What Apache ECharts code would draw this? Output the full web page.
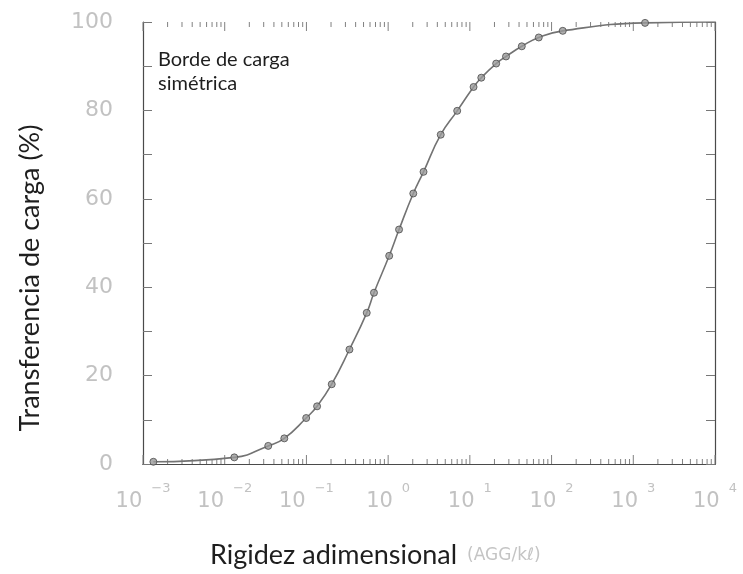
<!DOCTYPE html>
<html>
<head>
<meta charset="utf-8">
<script src="https://cdn.jsdelivr.net/npm/echarts@6/dist/echarts.min.js"></script>
<style>
  html, body { margin: 0; padding: 0; background: #fff; }
  #chart { width: 743px; height: 574px; }
</style>
</head>
<body>
<div id="chart"></div>
<script>
// Rigidez adimensional (eje logarítmico) y transferencia de carga en %
const stiffness = [0.00134, 0.0131, 0.0341, 0.0536, 0.0993, 0.135, 0.204, 0.336, 0.547, 0.671,
                   1.03, 1.36, 2.03, 2.71, 4.40, 7.0, 11.1, 13.8, 21.0, 27.7, 43.2, 69.7, 137, 1393];
const transfer  = [0.5, 1.5, 4.1, 5.8, 10.4, 13.05, 18.05, 25.9, 34.2, 38.75,
                   47.1, 53.05, 61.2, 66.1, 74.5, 79.9, 85.3, 87.4, 90.6, 92.2, 94.5, 96.5, 98.0, 99.8];
// the fitted curve runs on past the last point up to the right edge
const curveEndX = 10000;
const curveEndY = 100;

const yTicks = [0, 20, 40, 60, 80, 100];
const decades = [-3, -2, -1, 0, 1, 2, 3, 4];
const minorMantissas = [2, 3, 4, 5, 6, 7, 8, 9];

const points = stiffness.map((x, i) => [x, transfer[i]]);
const curve = points.concat([[curveEndX, curveEndY]]);

// tick positions of the log axis: long ticks at each decade, short ones at 2..9
const logTicks = [];
decades.forEach((d, k) => {
  logTicks.push([Math.pow(10, d), 9]);
  if (k < decades.length - 1) {
    minorMantissas.forEach(m => logTicks.push([m * Math.pow(10, d), 5]));
  }
});

const axisColor = '#4a4a4a';
const labelGray = '#c2c2c2';
const titleColor = '#1e1e1e';
const xMin = Math.pow(10, decades[0]);
const xMax = Math.pow(10, decades[decades.length - 1]);

const chart = echarts.init(document.getElementById('chart'), null, { renderer: 'canvas' });

const frameX = {
  type: 'log',
  logBase: 10,
  min: xMin,
  max: xMax,
  interval: 1,
  axisLine: { show: true, lineStyle: { color: axisColor, width: 1.2 } },
  axisTick: { show: false },
  splitLine: { show: false }
};
const frameY = {
  type: 'value',
  min: yTicks[0],
  max: yTicks[yTicks.length - 1],
  interval: yTicks[1] - yTicks[0],
  axisLine: { show: true, lineStyle: { color: axisColor, width: 1.2 } },
  axisTick: { show: true, inside: true, length: 9, lineStyle: { color: '#777' } },
  minorTick: { show: true, splitNumber: 2, length: 9, lineStyle: { color: '#777' } },
  splitLine: { show: false }
};

chart.setOption({
  animation: false,
  backgroundColor: '#fff',
  grid: { left: 143, right: 28, top: 22, bottom: 110 },
  xAxis: [
    Object.assign({}, frameX, {
      axisLabel: {
        margin: 18,
        color: labelGray,
        formatter: v => {
          const e = Math.round(Math.log10(v));
          const t = e < 0 ? '\u2212' + Math.abs(e) : String(e);
          return '{b|10}{s|' + t + '}';
        },
        rich: {
          b: { fontFamily: 'DejaVu Sans', fontSize: 21, color: labelGray, lineHeight: 30, verticalAlign: 'bottom' },
          s: { fontFamily: 'DejaVu Sans', fontSize: 13, color: labelGray, lineHeight: 30, verticalAlign: 'top', padding: [0, 0, 0, 9] }
        }
      }
    }),
    Object.assign({}, frameX, { position: 'top', axisLabel: { show: false } })
  ],
  yAxis: [
    Object.assign({}, frameY, {
      axisLabel: {
        margin: 30,
        color: labelGray,
        fontFamily: 'DejaVu Sans',
        fontSize: 22
      }
    }),
    Object.assign({}, frameY, { position: 'right', axisLabel: { show: false } })
  ],
  graphic: [
    {
      // vertical axis title
      type: 'text',
      x: 30,
      y: 278,
      rotation: Math.PI / 2,
      style: {
        text: 'Transferencia de carga (%)',
        fontFamily: 'Lato',
        fontSize: 27,
        fill: titleColor,
        align: 'center',
        verticalAlign: 'middle'
      }
    },
    {
      // horizontal axis title
      type: 'text',
      left: 210,
      top: 542,
      style: {
        rich: {
          t: { fontFamily: 'Lato', fontSize: 27, fill: titleColor },
          u: { fontFamily: 'DejaVu Sans', fontSize: 17, fill: '#c4c4c4', padding: [0, 0, 0, 10] }
        },
        text: '{t|Rigidez adimensional}{u|(AGG/k\u2113)}'
      }
    },
    {
      type: 'text',
      left: 158,
      top: 48,
      style: {
        text: 'Borde de carga\nsimétrica',
        fontFamily: 'Lato',
        fontSize: 20,
        lineHeight: 24,
        fill: titleColor
      }
    }
  ],
  series: [
    {
      type: 'line',
      data: curve,
      smooth: true,
      showSymbol: false,
      lineStyle: { color: '#737373', width: 1.6 },
      z: 2
    },
    {
      type: 'scatter',
      data: points,
      symbol: 'circle',
      symbolSize: 7,
      itemStyle: { color: '#9a9a9a', borderColor: '#4a4a4a', borderWidth: 1 },
      z: 3
    },
    {
      // tick marks of the logarithmic axis, along the bottom and top edges
      type: 'custom',
      data: logTicks,
      silent: true,
      z: 1,
      renderItem: (params, api) => {
        const v = api.value(0);
        const len = api.value(1);
        const b = api.coord([v, yTicks[0]]);
        const t = api.coord([v, yTicks[yTicks.length - 1]]);
        const style = { stroke: '#808080', lineWidth: 1 };
        return {
          type: 'group',
          children: [
            { type: 'line', shape: { x1: b[0], y1: b[1], x2: b[0], y2: b[1] - len }, style },
            { type: 'line', shape: { x1: t[0], y1: t[1], x2: t[0], y2: t[1] + len }, style }
          ]
        };
      }
    }
  ]
});
</script>
</body>
</html>
